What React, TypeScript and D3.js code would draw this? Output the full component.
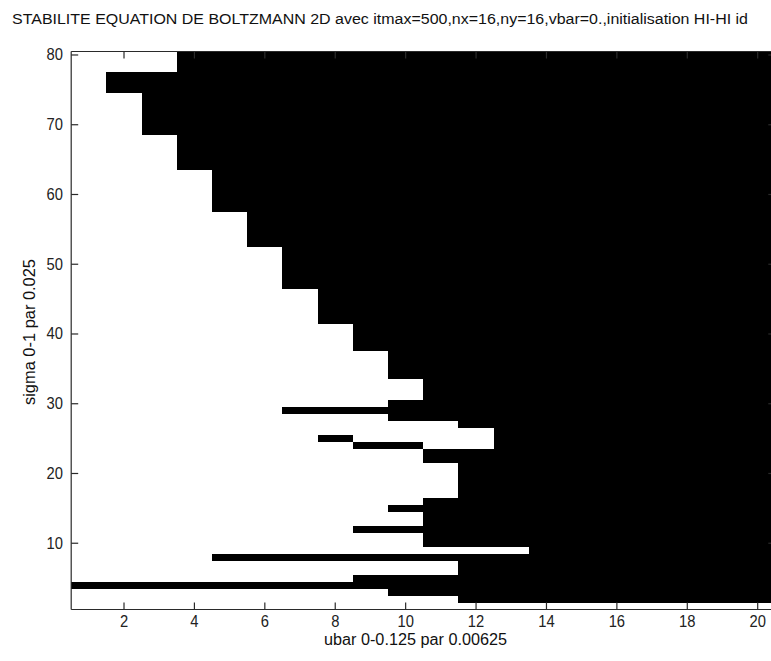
import React from "react";
import * as d3 from "d3";

// Number of stable (white) ubar columns for each sigma row, rows 1..80 (bottom to top)
const stableCols: number[] = [
  20, 11, 9, 0, 8, 11, 11, 4, 13, 10, // 1-10
  10, 8, 10, 10, 9, 10, 11, 11, 11, 11, // 11-20
  11, 10, 10, 12, 12, 12, 11, 9, 6, 9, // 21-30
  10, 10, 10, 9, 9, 9, 9, 8, 8, 8, // 31-40
  8, 7, 7, 7, 7, 7, 6, 6, 6, 6, // 41-50
  6, 6, 5, 5, 5, 5, 5, 4, 4, 4, // 51-60
  4, 4, 4, 3, 3, 3, 3, 3, 2, 2, // 61-70
  2, 2, 2, 2, 1, 1, 1, 3, 3, 3, // 71-80
];

// Isolated unstable cells inside the stable zone: [row, firstCol, lastCol]
const unstableIslands: [number, number, number][] = [
  [24, 9, 10],
  [25, 8, 8],
];

const nCols = 20;
const nRows = 80;
const xTicks = [2, 4, 6, 8, 10, 12, 14, 16, 18, 20];
const yTicks = [10, 20, 30, 40, 50, 60, 70, 80];

const titleText =
  "STABILITE EQUATION DE BOLTZMANN 2D avec itmax=500,nx=16,ny=16,vbar=0.,initialisation HI-HI id";
const xLabelText = "ubar 0-0.125 par 0.00625";
const yLabelText = "sigma 0-1 par 0.025";

export default function App() {
  const W = 771;
  const H = 661;
  const left = 71.2;
  const right = 775.3;
  const top = 51.5;
  const bottom = 609.5;

  const x = d3.scaleLinear().domain([0.5, nCols + 0.5]).range([left, right]);
  const y = d3.scaleLinear().domain([0.5, nRows + 0.5]).range([bottom, top]);

  // Build black runs per row
  const runs: { row: number; c0: number; c1: number }[] = [];
  stableCols.forEach((s, i) => {
    const row = i + 1;
    if (s < nCols) runs.push({ row, c0: s + 1, c1: nCols });
  });
  unstableIslands.forEach(([row, c0, c1]) => runs.push({ row, c0, c1 }));

  const font = "'Liberation Sans', Arial, Helvetica, sans-serif";
  const axisColor = "#2a2a2a";
  const tickLen = 7;

  return (
    <svg
      width={W}
      height={H}
      style={{ position: "absolute", left: 0, top: 0, background: "#fff" }}
    >
      <rect x={0} y={0} width={W} height={H} fill="#fff" />
      <rect
        x={left}
        y={top}
        width={right - left}
        height={bottom - top}
        fill="#fff"
      />
      <g shapeRendering="crispEdges">
        {runs.map((r, i) => (
          <rect
            key={i}
            x={x(r.c0 - 0.5)}
            y={y(r.row + 0.5)}
            width={x(r.c1 + 0.5) - x(r.c0 - 0.5)}
            height={y(r.row - 0.5) - y(r.row + 0.5)}
            fill="#000"
          />
        ))}
      </g>
      {/* box */}
      <g stroke={axisColor} strokeWidth={1.2} fill="none">
        <line x1={left} x2={right} y1={bottom} y2={bottom} />
        <line x1={left} x2={right} y1={top} y2={top} />
        <line x1={left} x2={left} y1={top} y2={bottom} />
        <line x1={right} x2={right} y1={top} y2={bottom} />
        {xTicks.map((t) => (
          <g key={"xt" + t}>
            <line x1={x(t)} x2={x(t)} y1={bottom} y2={bottom - tickLen} />
            <line x1={x(t)} x2={x(t)} y1={top} y2={top + tickLen} />
          </g>
        ))}
        {yTicks.map((t) => (
          <g key={"yt" + t}>
            <line x1={left} x2={left + tickLen} y1={y(t)} y2={y(t)} />
            <line x1={right} x2={right - tickLen} y1={y(t)} y2={y(t)} />
          </g>
        ))}
      </g>
      {/* tick labels */}
      <g fill="#222" fontFamily={font} fontSize={16}>
        {xTicks.map((t) => (
          <text
            key={"xl" + t}
            x={x(t)}
            y={627}
            textAnchor="middle"
            textLength={String(t).length * 8.2}
            lengthAdjust="spacingAndGlyphs"
          >
            {t}
          </text>
        ))}
        {yTicks.map((t) => (
          <text
            key={"yl" + t}
            x={63}
            y={y(t) + 5.5}
            textAnchor="end"
            textLength={String(t).length * 8.2}
            lengthAdjust="spacingAndGlyphs"
          >
            {t}
          </text>
        ))}
      </g>
      {/* title & labels */}
      <text
        x={12}
        y={24}
        fontFamily={font}
        fontSize={15.5}
        fill="#111"
        textLength={736}
        lengthAdjust="spacingAndGlyphs"
      >
        {titleText}
      </text>
      <text
        x={324}
        y={645}
        fontFamily={font}
        fontSize={16}
        fill="#111"
        textLength={183}
        lengthAdjust="spacingAndGlyphs"
      >
        {xLabelText}
      </text>
      <text
        transform={`translate(35,${405}) rotate(-90)`}
        x={0}
        y={0}
        fontFamily={font}
        fontSize={16}
        fill="#111"
        textLength={146}
        lengthAdjust="spacingAndGlyphs"
      >
        {yLabelText}
      </text>
    </svg>
  );
}
